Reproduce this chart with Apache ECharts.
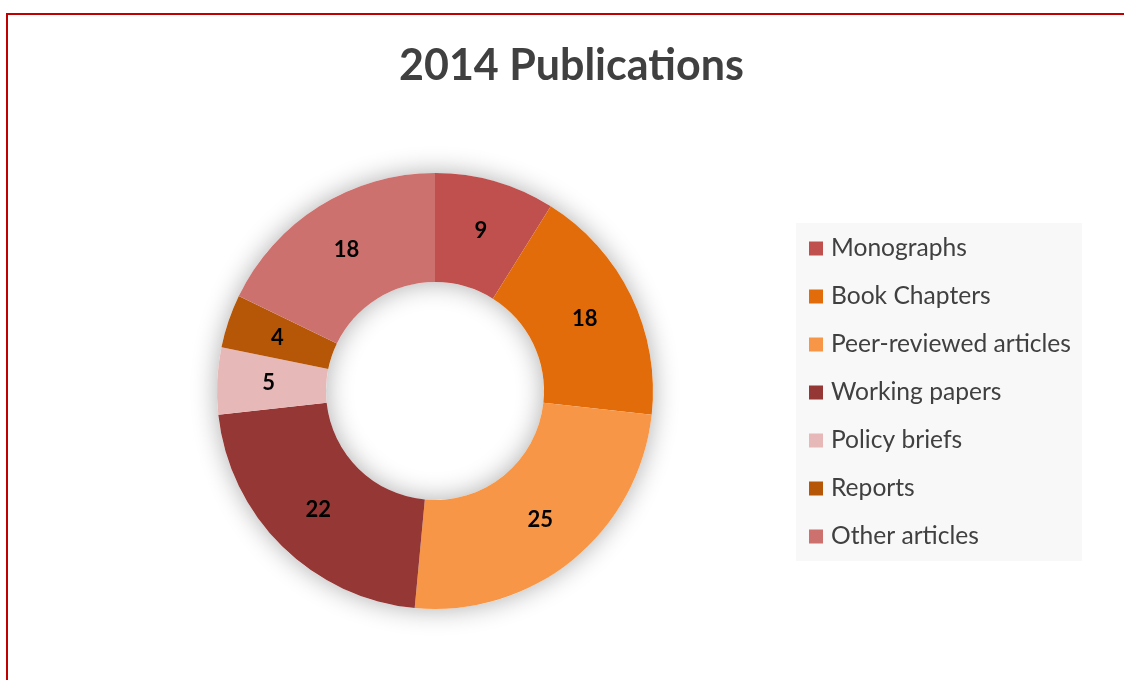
<!DOCTYPE html>
<html>

<head>
    <meta charset="utf-8">
    <title>2014 Publications</title>
    <script src="https://cdn.jsdelivr.net/npm/echarts@6/dist/echarts.min.js"></script>
    <style>
        body { margin: 0; background: #fff; }
        #main { position: absolute; left: 0; top: 0; width: 1124px; height: 680px; }
        /* red frame, only the top and left edges are visible in the original */
        #frame { position: absolute; left: 6px; top: 13px; width: 1130px; height: 680px;
                 border-top: 2px solid #c00000; border-left: 2px solid #c00000; pointer-events: none; }
    </style>
</head>

<body>
    <div id="main"></div>
    <div id="frame"></div>
    <script type="text/javascript">
        var categories = ['Monographs', 'Book Chapters', 'Peer-reviewed articles', 'Working papers',
            'Policy briefs', 'Reports', 'Other articles'];
        var counts = [9, 18, 25, 22, 5, 4, 18];
        var colors = ['#c0504d', '#e36c0a', '#f79646', '#953735', '#e6b9b8', '#b65708', '#cd716e'];

        var myChart = echarts.init(document.getElementById('main'));

        var pieData = categories.map(function (name, i) {
            return { name: name, value: counts[i], itemStyle: { color: colors[i] } };
        });
        var total = counts.reduce(function (a, b) { return a + b; }, 0);

        var font = 'Lato, "Open Sans", sans-serif';

        myChart.setOption({
            animation: false,
            title: {
                text: '2014 Publications',
                left: 399,
                top: 45,
                padding: 0,
                textStyle: {
                    fontFamily: font,
                    fontSize: 43,
                    fontWeight: 'bold',
                    color: '#404040'
                }
            },
            legend: {
                orient: 'vertical',
                left: 796,
                top: 223,
                padding: [13, 11, 12, 13],
                backgroundColor: '#f8f8f8',
                data: categories,
                icon: 'rect',
                itemWidth: 14,
                itemHeight: 14,
                itemGap: 23,
                textStyle: {
                    fontFamily: font,
                    fontSize: 24.6,
                    color: '#404040',
                    padding: [0, 0, 0, 3]
                }
            },
            series: [{
                    // soft shadow under the ring
                    type: 'pie',
                    silent: true,
                    center: [435, 391],
                    radius: [109, 218],
                    label: { show: false },
                    labelLine: { show: false },
                    data: [{ name: '', value: total }],
                    itemStyle: {
                        color: '#ffffff',
                        shadowBlur: 26,
                        shadowColor: 'rgba(0,0,0,0.32)'
                    }
                },
                {
                    type: 'pie',
                    center: [435, 391],
                    radius: [109, 218],
                    startAngle: 90,
                    clockwise: true,
                    avoidLabelOverlap: false,
                    label: {
                        show: true,
                        position: 'inside',
                        formatter: '{c}',
                        fontFamily: font,
                        fontSize: 22,
                        fontWeight: 'bold',
                        color: '#000'
                    },
                    labelLine: { show: false },
                    itemStyle: { borderWidth: 0 },
                    data: pieData
                }
            ]
        });
    </script>
</body>

</html>
